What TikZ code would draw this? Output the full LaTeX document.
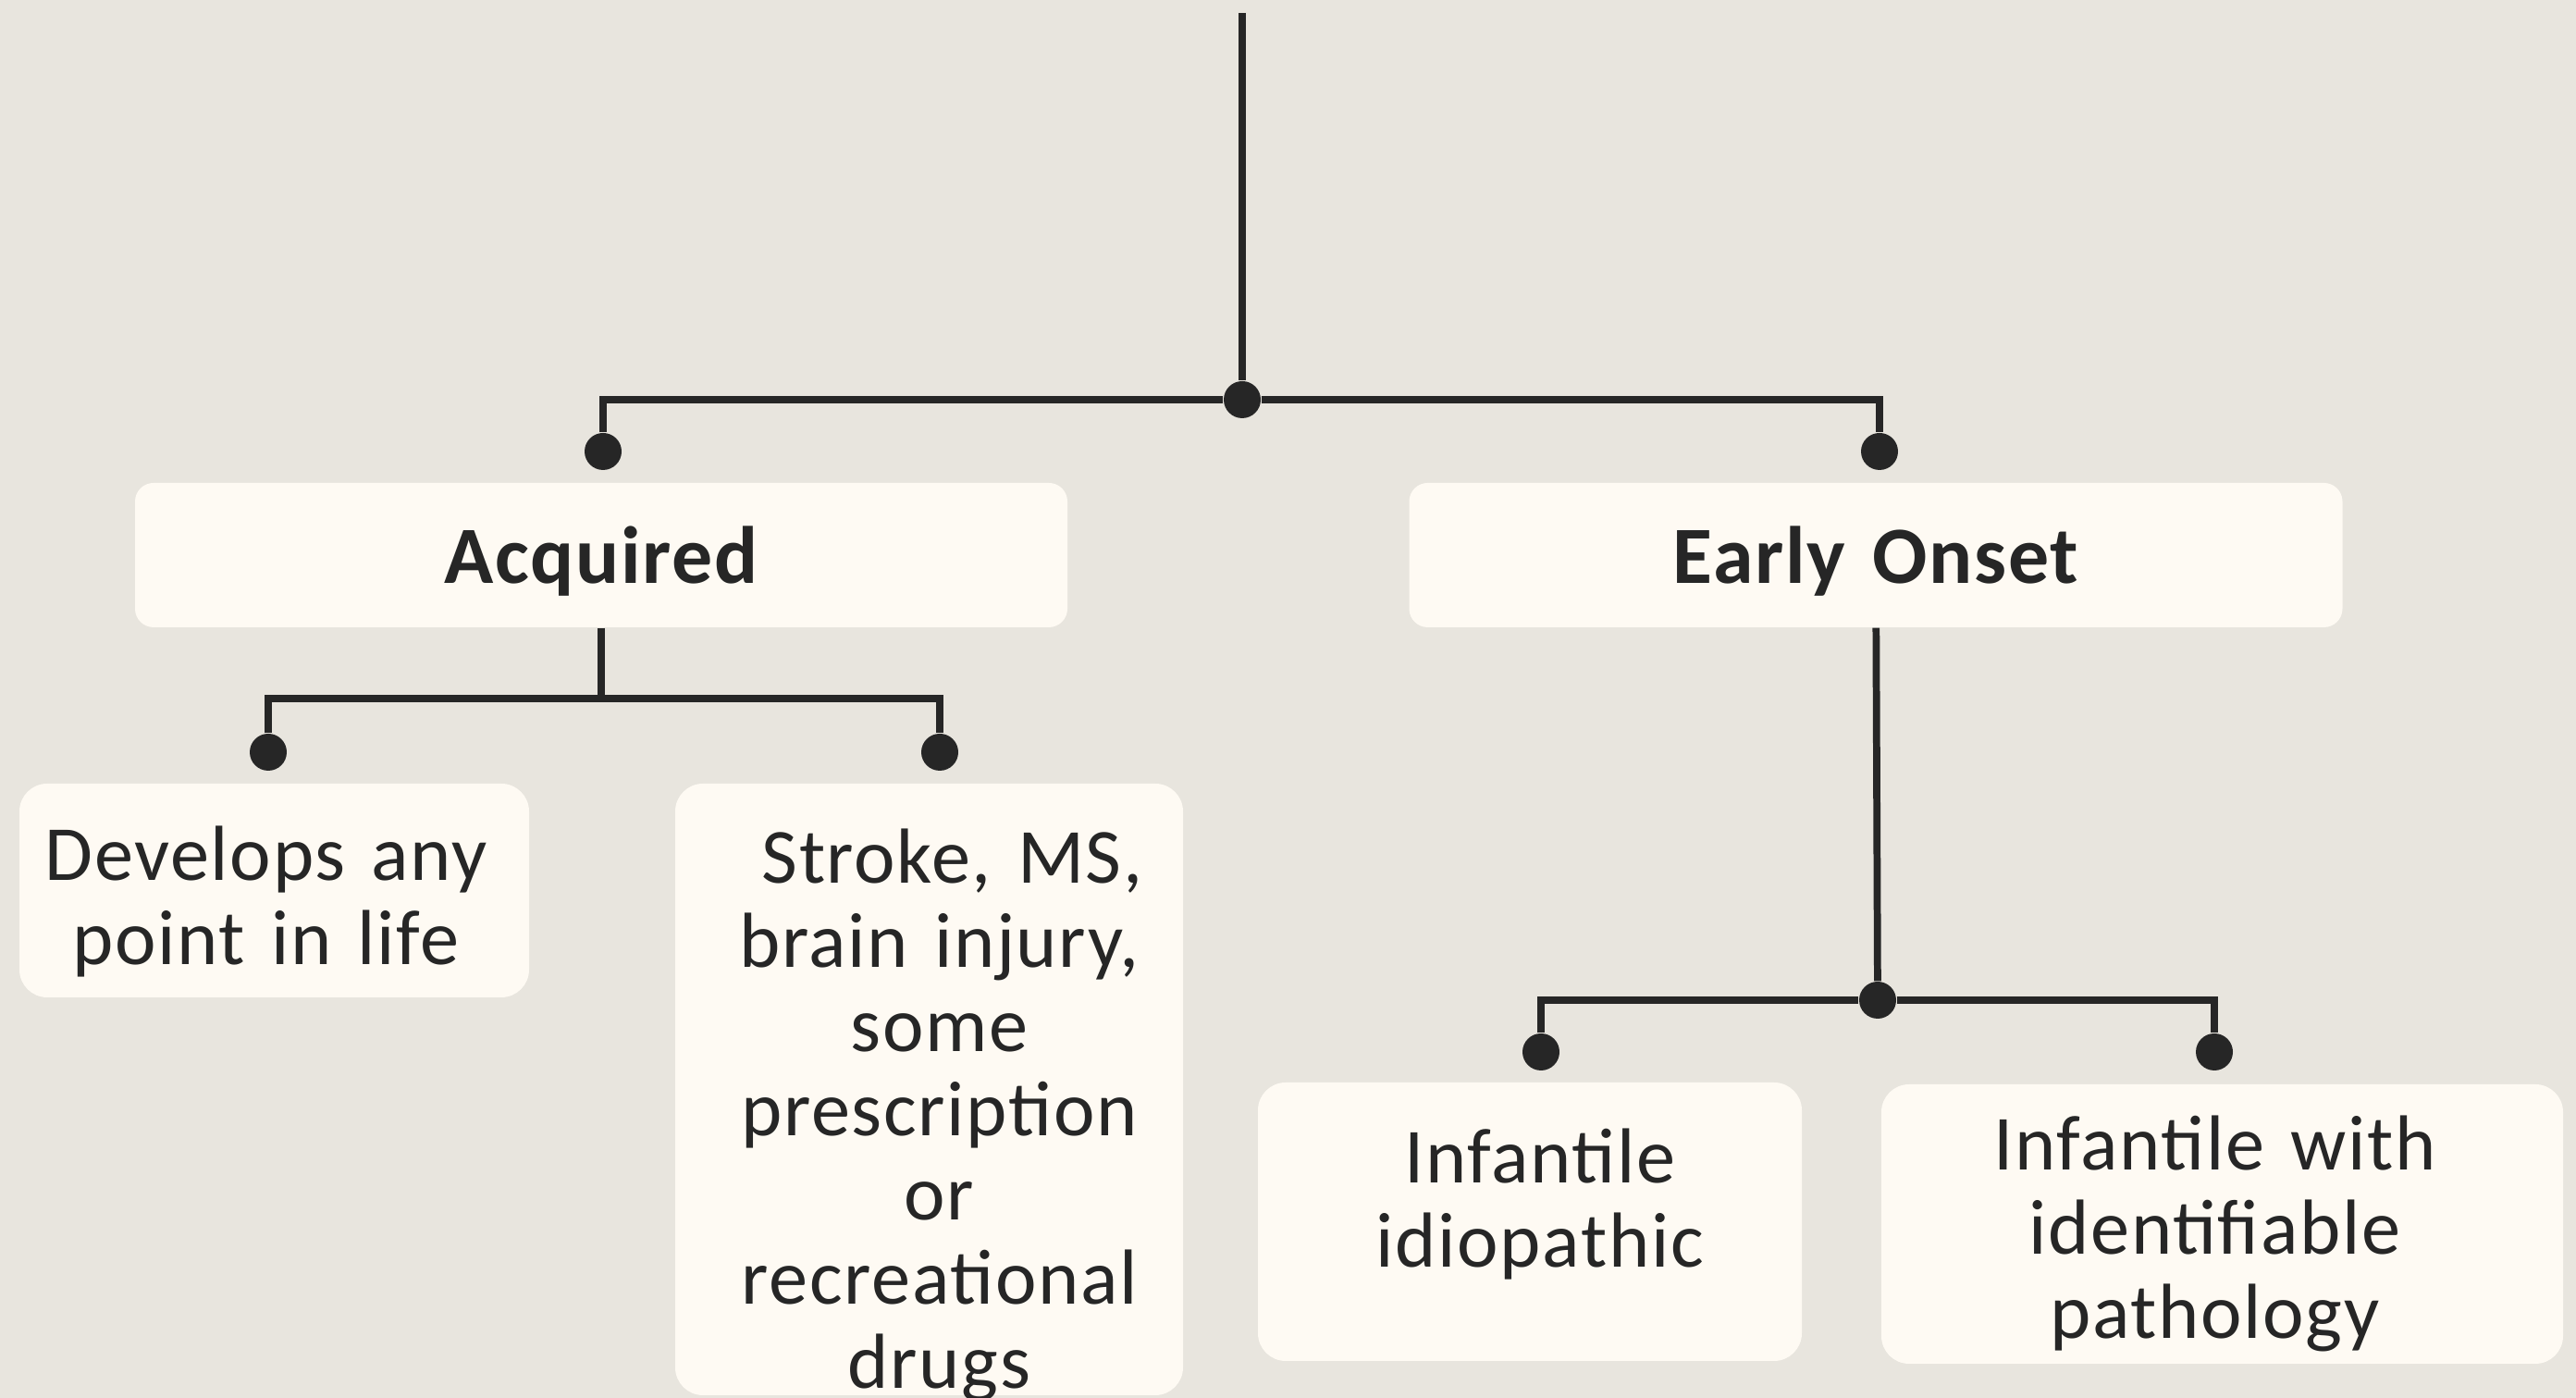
\documentclass[tikz,border=0pt]{standalone}
\usepackage{fontspec}
\setmainfont{Carlito}[LetterSpace=2]
\usepackage{xcolor}
\definecolor{paper}{RGB}{232,229,222}
\definecolor{cardfill}{RGB}{254,250,243}
\definecolor{inkgray}{RGB}{38,38,38}

% centred lines, nudged sideways by #1 (half of it)
\newcommand{\nudgeleft}[1]{\leftskip=#1 plus 1fil\relax\rightskip=0pt plus 1fil\relax\parfillskip=0pt\relax}
\newcommand{\nudgeright}[1]{\leftskip=0pt plus 1fil\relax\rightskip=#1 plus 1fil\relax\parfillskip=0pt\relax}

\begin{document}
\begin{tikzpicture}[x=1cm, y=1cm,
    card/.style={fill=cardfill, rounded corners=0.3cm, inner sep=0pt, align=center,
                 text=inkgray, font=\fontsize{24}{25.9}\selectfont},
    headcard/.style={card, rounded corners=0.2cm, font=\fontsize{25}{28}\selectfont\bfseries},
    link/.style={draw=inkgray, line width=2.2pt},
    jdot/.style={circle, fill=inkgray, minimum size=0.4cm, inner sep=0pt}]
    % Background
    \useasboundingbox (0,0) rectangle (27.85,15.11);
    \fill[paper] (0,0) rectangle (27.85,15.11);

    % Root and first split
    \coordinate (top) at (13.43,14.97);
    \node[jdot] (root) at (13.43,10.79) {};
    \node[jdot] (acqdot) at (6.52,10.23) {};
    \node[jdot] (eodot) at (20.32,10.23) {};

    % Category boxes
    \node[headcard, text width=10.08cm, minimum height=1.56cm] (acq) at (6.50,9.11)
        {Acquired\par\vspace{-0.2cm}};
    \node[headcard, text width=10.09cm, minimum height=1.56cm] (eo) at (20.28,9.11)
        {Early Onset\par\vspace{-0.2cm}};

    % Acquired branch
    \coordinate (acqj) at (acq.south |- 0,7.56);
    \node[jdot] (devdot) at (2.90,6.98) {};
    \node[jdot] (strdot) at (10.16,6.98) {};
    \node[card, text width=5.51cm, minimum height=2.31cm] (dev) at (2.965,5.485)
        {\nudgeright{0.18cm}Develops any\\point in life\par\vspace{-0.25cm}};
    \node[card, text width=5.49cm, minimum height=6.61cm] (str) at (10.045,3.335)
        {\nudgeleft{0.22cm}~Stroke, MS,\\brain injury,\\some\\prescription\\or\\recreational\\drugs\par\vspace{-0.56cm}};

    % Early onset branch
    \node[jdot] (eoj) at (20.30,4.30) {};
    \node[jdot] (idiodot) at (16.66,3.74) {};
    \node[jdot] (pathdot) at (23.94,3.74) {};
    \node[card, text width=5.88cm, minimum height=3.01cm] (idio) at (16.54,1.905)
        {\nudgeleft{0.22cm}Infantile\\idiopathic\par\vspace{0.37cm}};
    \node[card, text width=7.37cm, minimum height=3.02cm] (path) at (24.025,1.88)
        {\nudgeright{0.16cm}Infantile with\\identifiable\\pathology\par\vspace{-0.21cm}};

    % Connectors
    \draw[link] (top) -- (root);
    \draw[link] (acqdot) |- (root) -| (eodot);
    \draw[link] (acq.south) -- (acqj);
    \draw[link] (devdot) |- (acqj) -| (strdot);
    \draw[link] (eo) -- (eoj);
    \draw[link] (idiodot) |- (eoj) -| (pathdot);
\end{tikzpicture}
\end{document}
